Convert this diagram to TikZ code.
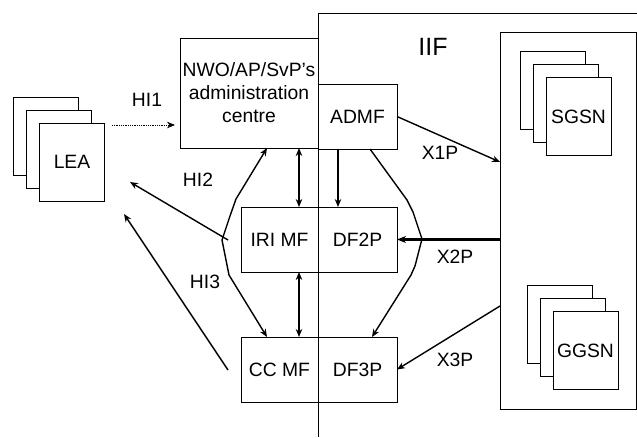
\documentclass[tikz,border=0pt]{standalone}
\usepackage{fontspec}
\setmainfont{Liberation Sans}
\usetikzlibrary{arrows.meta,calc}
\newcommand\lblfont{\fontsize{19.3}{23}\selectfont}
\begin{document}
\begin{tikzpicture}[x=1pt,y=-1pt,
  box/.style={draw, inner sep=0pt, outer sep=0pt, line width=0.8pt, align=center, font=\lblfont, minimum width=#1},
  box/.default=77pt,
  sheet/.style={draw, fill=white, inner sep=0pt, outer sep=0pt, line width=0.8pt, minimum width=65pt, minimum height=78pt, font=\lblfont},
  lbl/.style={font=\lblfont, inner sep=0pt},
  arr/.style={line width=1.4pt, -{Stealth[length=8pt,width=6.5pt]}},
  darr/.style={line width=1.4pt, {Stealth[length=8pt,width=6.5pt]}-{Stealth[length=8pt,width=6.5pt]}}
]
\useasboundingbox (0,0) rectangle (637,437);
% IIF frame
\draw[line width=0.8pt] (318,437) -- (318,13) -- (637,13);
\node[lbl, font=\fontsize{25}{28}\selectfont] (iif) at (433,47) {IIF};
% network element box
\node[box=136pt, minimum height=377pt] (net) at (568,220.5) {};
% LEA stack
\node[sheet] (lea3) at (46,136) {};
\node[sheet] (lea2) at (59,149) {};
\node[sheet] (lea) at (72,162) {LEA};
% SGSN stack
\node[sheet] (sgsn3) at (552.5,90.5) {};
\node[sheet] (sgsn2) at (565.5,103.5) {};
\node[sheet] (sgsn) at (578.5,116.5) {SGSN};
% GGSN stack
\node[sheet] (ggsn3) at (559.5,324.5) {};
\node[sheet] (ggsn2) at (572.5,337.5) {};
\node[sheet] (ggsn) at (585.5,350.5) {GGSN};
% function boxes
\node[box=138pt, minimum height=110pt] (nwo) at (249,93) {NWO/AP/SvP's\\administration\\centre};
\node[box=79pt, minimum height=65pt] (admf) at (357.5,116.5) {ADMF};
\node[box=77pt, minimum height=65pt] (iri) at (279.5,239.5) {IRI MF};
\node[box=79pt, minimum height=65pt] (df2) at (357.5,239.5) {DF2P};
\node[box=77pt, minimum height=65pt] (cc) at (279.5,369.5) {CC MF};
\node[box=79pt, minimum height=65pt] (df3) at (357.5,369.5) {DF3P};
% free-end coordinates
\coordinate (hi1s) at (112,125);
\coordinate (hi1e) at (175,125);
\coordinate (hi2s) at (228,240);
\coordinate (hi2e) at (130,182);
\coordinate (hi3s) at (228,370);
\coordinate (hi3e) at (124,214);
\coordinate (x1e) at ($(net.north west)+(0,130)$);
\coordinate (x2s) at (net.west |- df2.east);
\coordinate (x3s) at ($(net.north west)+(0,274)$);
% HI interfaces
\draw[line width=0.8pt, densely dotted, -{Stealth[length=8pt,width=6.5pt]}] (hi1s) -- (hi1e);
\node[lbl] (hi1) at (147,100) {HI1};
\draw[arr] (hi2s) -- (hi2e);
\node[lbl] (hi2) at (198,180) {HI2};
\draw[arr] (hi3s) -- (hi3e);
\node[lbl] (hi3) at (205,282) {HI3};
% internal arrows
\draw[darr] ([xshift=19.5pt]iri.north |- nwo.south) -- ([xshift=19.5pt]iri.north);
\draw[darr] ([xshift=19.5pt]iri.south) -- ([xshift=19.5pt]cc.north);
\draw[arr] ([xshift=-19.5pt]admf.south) -- ([xshift=-19.5pt]df2.north);
\draw[darr] ([xshift=18pt]nwo.south) -- (236,199) -- (230,216) -- (222,240) -- (229,275) -- ([xshift=-12.5pt]cc.north);
\draw[arr] ([xshift=12.5pt]admf.south) -- (407,200) -- (413,212) -- (422,239) -- (415,266) -- (411,275) -- ([xshift=14.5pt]df3.north);
% X interfaces
\draw[arr] (admf.east) -- (x1e);
\node[lbl] (x1p) at (440,153) {X1P};
\draw[line width=2.2pt, -{Stealth[length=9pt,width=7pt]}] (x2s) -- (df2.east);
\node[lbl] (x2p) at (455,257) {X2P};
\draw[arr] (x3s) -- (df3.east);
\node[lbl] (x3p) at (455,360) {X3P};
\end{tikzpicture}
\end{document}
